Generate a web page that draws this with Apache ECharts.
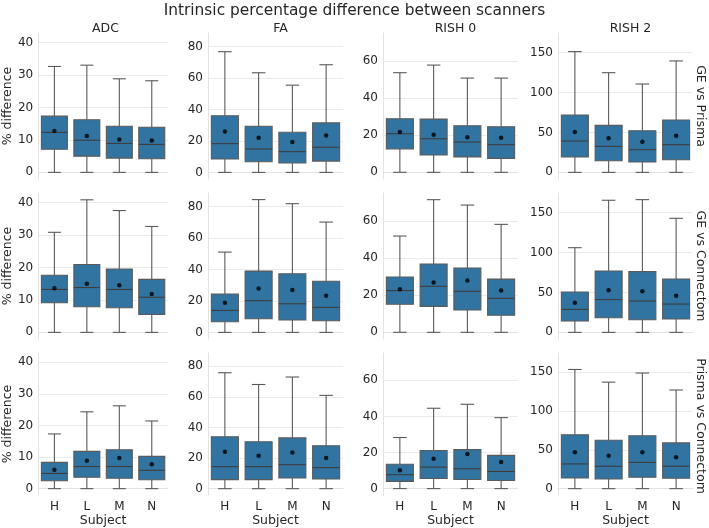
<!DOCTYPE html>
<html>
<head>
<meta charset="utf-8">
<script src="https://cdn.jsdelivr.net/npm/echarts@6/dist/echarts.min.js"></script>
<style>html,body{margin:0;padding:0;background:#fff}#c{width:709px;height:528px}</style>
</head>
<body>
<div id="c"></div>
<script>
// ---- data ----
var subjects = ['H', 'L', 'M', 'N'];
var metrics = ['ADC', 'FA', 'RISH 0', 'RISH 2'];
var comparisons = ['GE vs Prisma', 'GE vs Connectom', 'Prisma vs Connectom'];
// y ticks per metric column
var ticksADC = [0, 10, 20, 30, 40];
var ticksFA = [0, 20, 40, 60, 80];
var ticksRISH0 = [0, 20, 40, 60];
var ticksRISH2 = [0, 50, 100, 150];
// y limits per metric column
var limADC = [-2.04, 42.9];
var limFA = [-4.2, 88.7];
var limRISH0 = [-3.6, 75.1];
var limRISH2 = [-8.3, 174.6];

// box stats per subject: [low, Q1, median, Q3, high]; means separately
// GE vs Prisma
var gp_ADC = [[0, 7.1, 12.3, 17.3, 32.6], [0, 5.0, 9.9, 16.2, 33.0], [0, 4.4, 8.9, 14.2, 28.8], [0, 4.2, 8.6, 13.9, 28.2]];
var gp_ADC_mean = [12.7, 11.2, 10.1, 9.8];
var gp_FA = [[0, 8.5, 18.3, 36.0, 76.8], [0, 6.8, 14.9, 29.4, 63.4], [0, 6.0, 13.2, 25.5, 55.5], [0, 7.2, 16.0, 31.5, 68.5]];
var gp_FA_mean = [26.0, 22.1, 19.4, 23.4];
var gp_RISH0 = [[0, 12.6, 20.8, 28.9, 53.7], [0, 9.3, 18.1, 28.7, 57.8], [0, 8.3, 16.3, 25.1, 50.8], [0, 7.5, 14.9, 24.6, 50.8]];
var gp_RISH0_mean = [21.7, 20.3, 18.9, 18.7];
var gp_RISH2 = [[0, 19.2, 39.3, 71.9, 151.3], [0, 14.6, 32.6, 58.9, 124.9], [0, 13.0, 28.4, 52.2, 110.7], [0, 15.9, 34.7, 65.6, 139.6]];
var gp_RISH2_mean = [50.6, 42.6, 38.4, 46.0];
// GE vs Connectom
var gc_ADC = [[0, 9.1, 13.2, 17.6, 30.8], [0, 7.9, 13.8, 20.9, 40.8], [0, 7.6, 13.2, 19.5, 37.5], [0, 5.5, 10.8, 16.3, 32.6]];
var gc_ADC_mean = [13.6, 15.0, 14.5, 11.8];
var gc_FA = [[0, 6.8, 14.0, 24.4, 51.1], [0, 8.7, 20.2, 39.0, 84.5], [0, 7.9, 18.2, 37.3, 81.9], [0, 7.4, 15.9, 32.5, 70.2]];
var gc_FA_mean = [18.9, 28.0, 26.9, 23.3];
var gc_RISH0 = [[0, 15.1, 22.5, 29.8, 51.9], [0, 14.0, 24.8, 36.8, 71.5], [0, 12.0, 22.1, 34.7, 68.6], [0, 9.2, 18.3, 28.7, 58.2]];
var gc_RISH0_mean = [23.2, 26.8, 28.0, 22.5];
var gc_RISH2 = [[0, 14.2, 28.8, 50.6, 106.1], [0, 18.4, 41.0, 76.9, 165.5], [0, 15.9, 39.3, 76.1, 166.3], [0, 16.7, 35.5, 66.9, 142.9]];
var gc_RISH2_mean = [37.2, 52.7, 51.4, 46.0];
// Prisma vs Connectom
var pc_ADC = [[0, 2.5, 4.8, 8.3, 17.3], [0, 3.6, 7.0, 11.8, 24.3], [0, 3.3, 7.0, 12.3, 26.2], [0, 2.8, 5.8, 10.2, 21.4]];
var pc_ADC_mean = [6.0, 8.8, 9.7, 7.7];
var pc_FA = [[0, 5.9, 14.4, 33.9, 75.8], [0, 5.9, 14.4, 30.7, 68.1], [0, 7.0, 15.7, 33.2, 73.0], [0, 6.3, 13.8, 28.1, 61.0]];
var pc_FA_mean = [24.1, 21.6, 23.7, 20.1];
var pc_RISH0 = [[0, 4.0, 7.7, 13.5, 28.3], [0, 5.6, 11.9, 21.1, 44.5], [0, 5.0, 11.0, 21.6, 46.7], [0, 4.5, 9.5, 18.4, 39.3]];
var pc_RISH0_mean = [10.1, 16.6, 19.1, 14.8];
var pc_RISH2 = [[0, 13.8, 31.8, 69.4, 153.4], [0, 12.5, 28.8, 62.3, 137.1], [0, 14.6, 33.8, 68.1, 148.8], [0, 13.4, 28.8, 58.9, 127.0]];
var pc_RISH2_mean = [46.8, 42.2, 46.8, 40.5];

// ---- assemble ----
var boxes = [
  [gp_ADC, gp_FA, gp_RISH0, gp_RISH2],
  [gc_ADC, gc_FA, gc_RISH0, gc_RISH2],
  [pc_ADC, pc_FA, pc_RISH0, pc_RISH2]
];
var means = [
  [gp_ADC_mean, gp_FA_mean, gp_RISH0_mean, gp_RISH2_mean],
  [gc_ADC_mean, gc_FA_mean, gc_RISH0_mean, gc_RISH2_mean],
  [pc_ADC_mean, pc_FA_mean, pc_RISH0_mean, pc_RISH2_mean]
];
var ticks = [ticksADC, ticksFA, ticksRISH0, ticksRISH2];
var lims = [limADC, limFA, limRISH0, limRISH2];

var TEXT = '#262626';
var FONT = 'DejaVu Sans';
var BOX = '#3274a1';
var LINE = '#5a5a5a';
var GRIDC = '#ebebeb';
var SPINE = '#e3e3e3';

var grids = [], xAxes = [], yAxes = [], series = [], titles = [], graphics = [];
var gLeft = 33, gStep = 175, gW = 135;
var rTop = [33, 193, 353], gH = 146;

function renderBox(params, api) {
  var xi = api.value(0);
  var band = api.size([1, 0])[0];
  var bw = band * 0.8, cw = band * 0.4;
  var pLow = api.coord([xi, api.value(1)]);
  var pQ1 = api.coord([xi, api.value(2)]);
  var pMed = api.coord([xi, api.value(3)]);
  var pQ3 = api.coord([xi, api.value(4)]);
  var pHigh = api.coord([xi, api.value(5)]);
  var cx = pQ1[0];
  var lw = {stroke: LINE, lineWidth: 1.1};
  return {
    type: 'group',
    children: [
      {type: 'line', shape: {x1: cx, y1: pQ1[1], x2: cx, y2: pLow[1]}, style: lw},
      {type: 'line', shape: {x1: cx, y1: pQ3[1], x2: cx, y2: pHigh[1]}, style: lw},
      {type: 'line', shape: {x1: cx - cw / 2, y1: pLow[1], x2: cx + cw / 2, y2: pLow[1]}, style: lw},
      {type: 'line', shape: {x1: cx - cw / 2, y1: pHigh[1], x2: cx + cw / 2, y2: pHigh[1]}, style: lw},
      {type: 'rect', shape: {x: cx - bw / 2, y: pQ3[1], width: bw, height: pQ1[1] - pQ3[1]},
        style: {fill: BOX, stroke: LINE, lineWidth: 1.1}},
      {type: 'line', shape: {x1: cx - bw / 2, y1: pMed[1], x2: cx + bw / 2, y2: pMed[1]},
        style: {stroke: '#3d3d3d', lineWidth: 1.1}}
    ]
  };
}

for (var r = 0; r < 3; r++) {
  for (var c = 0; c < 4; c++) {
    var idx = r * 4 + c;
    grids.push({left: gLeft + c * gStep, top: rTop[r], width: gW, height: gH, containLabel: false});
    var bottom = (r === 2);
    xAxes.push({
      type: 'category', gridIndex: idx, data: subjects,
      name: bottom ? 'Subject' : '', nameLocation: 'middle', nameGap: 17,
      nameTextStyle: {color: TEXT, fontFamily: FONT, fontSize: 12.5},
      axisLine: {show: true, lineStyle: {color: SPINE, width: 1}},
      axisTick: {show: false},
      axisLabel: {show: bottom, color: TEXT, fontFamily: FONT, fontSize: 12, margin: 6},
      splitLine: {show: false}
    });
    yAxes.push({
      type: 'value', gridIndex: idx, min: lims[c][0], max: lims[c][1],
      name: c === 0 ? '% difference' : '', nameLocation: 'middle', nameGap: 18,
      nameTextStyle: {color: TEXT, fontFamily: FONT, fontSize: 12.5},
      axisLine: {show: true, lineStyle: {color: SPINE, width: 1}},
      axisTick: {show: false, customValues: ticks[c]},
      axisLabel: {color: TEXT, fontFamily: FONT, fontSize: 12, margin: 5, customValues: ticks[c]},
      splitLine: {show: true, lineStyle: {color: GRIDC, width: 1}}
    });
    var data = boxes[r][c].map(function (b, i) { return [i].concat(b); });
    series.push({
      type: 'custom', xAxisIndex: idx, yAxisIndex: idx,
      renderItem: renderBox, data: data, silent: true,
      encode: {x: 0, y: [1, 2, 3, 4, 5]}, clip: false
    });
    series.push({
      type: 'scatter', xAxisIndex: idx, yAxisIndex: idx, silent: true,
      symbol: 'circle', symbolSize: 4.5, itemStyle: {color: '#000'},
      data: means[r][c].map(function (m, i) { return [i, m]; }), z: 5
    });
  }
}

titles.push({
  text: 'Intrinsic percentage difference between scanners', left: 'center', top: -2,
  textStyle: {color: TEXT, fontFamily: FONT, fontSize: 15.4, fontWeight: 'normal'}
});
for (var c2 = 0; c2 < 4; c2++) {
  titles.push({
    text: metrics[c2], left: gLeft + c2 * gStep + gW / 2, top: 17, textAlign: 'center',
    textStyle: {color: TEXT, fontFamily: FONT, fontSize: 12.5, fontWeight: 'normal'}
  });
}
for (var r2 = 0; r2 < 3; r2++) {
  graphics.push({
    type: 'text', x: 700, y: rTop[r2] + gH / 2, rotation: -Math.PI / 2,
    style: {text: comparisons[r2], fill: TEXT, font: '12.5px "DejaVu Sans"', align: 'center', verticalAlign: 'middle'}
  });
}

var chart = echarts.init(document.getElementById('c'), null, {renderer: 'canvas'});
chart.setOption({
  animation: false,
  backgroundColor: '#fff',
  title: titles,
  grid: grids,
  xAxis: xAxes,
  yAxis: yAxes,
  series: series,
  graphic: graphics
});
</script>
</body>
</html>
